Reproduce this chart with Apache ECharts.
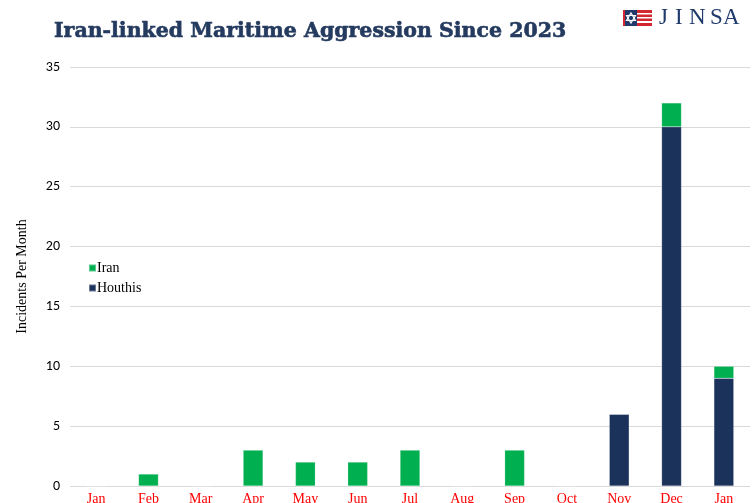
<!DOCTYPE html>
<html>
<head>
<meta charset="utf-8">
<script src="https://cdn.jsdelivr.net/npm/echarts@6/dist/echarts.min.js"></script>
<style>html,body{margin:0;padding:0;background:#fff;}#c{width:753px;height:503px;}</style>
</head>
<body>
<div id="c"></div>
<script>
const categories = ['Jan','Feb','Mar','Apr','May','Jun','Jul','Aug','Sep','Oct','Nov','Dec','Jan'];
const iranValues = [0,1,0,3,2,2,3,0,3,0,0,2,1];
const houthiValues = [0,0,0,0,0,0,0,0,0,0,6,30,9];
const yTicks = [0,5,10,15,20,25,30,35];

const chart = echarts.init(document.getElementById('c'));
const navy = '#1B325A';
const green = '#00B050';
const logoColor = '#1F3A6B';
const letters = [['J',659],['I',675],['N',689],['S',710],['A',723]];
chart.setOption({
  backgroundColor: '#fff',
  animation: false,
  title: {
    text: 'Iran-linked Maritime Aggression Since 2023',
    left: 49, top: 16,
    textStyle: {fontFamily: 'DejaVu Serif', fontWeight: 'bold', fontSize: 20.5, color: '#243A5E',
      textBorderColor: '#243A5E', textBorderWidth: 0.6}
  },
  legend: {
    data: ['Iran','Houthis'],
    orient: 'vertical', left: 83, top: 256,
    icon: 'rect', itemWidth: 7, itemHeight: 7, itemGap: 6,
    textStyle: {fontFamily: 'Liberation Serif', fontSize: 14, color: '#000', padding: [0,0,0,-4]}
  },
  grid: {left: 70, right: 3, top: 67, bottom: 17, containLabel: false, outerBoundsMode: 'none'},
  xAxis: {
    type: 'category', data: categories,
    axisLine: {show: false}, axisTick: {show: false},
    axisLabel: {color: '#FF0000', fontFamily: 'Liberation Serif', fontSize: 14, margin: 6}
  },
  yAxis: {
    type: 'value', min: yTicks[0], max: yTicks[yTicks.length-1], interval: 5,
    name: 'Incidents Per Month', nameLocation: 'middle', nameGap: 41,
    nameTextStyle: {fontFamily: 'Liberation Serif', fontSize: 14, color: '#000'},
    axisLine: {show: false}, axisTick: {show: false},
    axisLabel: {color: '#000', fontFamily: 'Carlito, Liberation Sans, sans-serif', fontSize: 14, margin: 10},
    splitLine: {lineStyle: {color: '#D9D9D9', width: 1}}
  },
  series: [
    {name: 'Houthis', type: 'bar', stack: 'a', data: houthiValues, barWidth: '38%',
     itemStyle: {color: navy, borderColor: 'rgba(255,255,255,0.35)', borderWidth: 0.5}},
    {name: 'Iran', type: 'bar', stack: 'a', data: iranValues, barWidth: '38%',
     itemStyle: {color: green, borderColor: 'rgba(255,255,255,0.35)', borderWidth: 0.5}}
  ],
  graphic: [
    {type: 'group', left: 623, top: 10, children: [
      {type: 'rect', shape: {x: 0, y: 0, width: 14, height: 16}, style: {fill: logoColor}},
      {type: 'rect', shape: {x: 14, y: 0, width: 15, height: 16}, style: {fill: '#fff'}},
      {type: 'rect', shape: {x: 14, y: 0, width: 15, height: 3}, style: {fill: '#D22630'}},
      {type: 'rect', shape: {x: 14, y: 4.5, width: 15, height: 2.5}, style: {fill: '#D22630'}},
      {type: 'rect', shape: {x: 14, y: 8.5, width: 15, height: 2.5}, style: {fill: '#D22630'}},
      {type: 'rect', shape: {x: 14, y: 13, width: 15, height: 3}, style: {fill: '#D22630'}},
      {type: 'rect', shape: {x: 0, y: 0, width: 2, height: 16}, style: {fill: '#D22630'}},
      {type: 'polygon', shape: {points: [[8,3],[12.5,10.5],[3.5,10.5]]}, style: {fill: 'none', stroke: '#fff', lineWidth: 1.2}},
      {type: 'polygon', shape: {points: [[8,13],[12.5,5.5],[3.5,5.5]]}, style: {fill: 'none', stroke: '#fff', lineWidth: 1.2}}
    ]}
  ].concat(letters.map(l => ({type: 'text', left: l[1], top: 6,
     style: {text: l[0], fontFamily: 'Liberation Serif', fontSize: 23, fill: logoColor}})))
});
</script>
</body>
</html>
